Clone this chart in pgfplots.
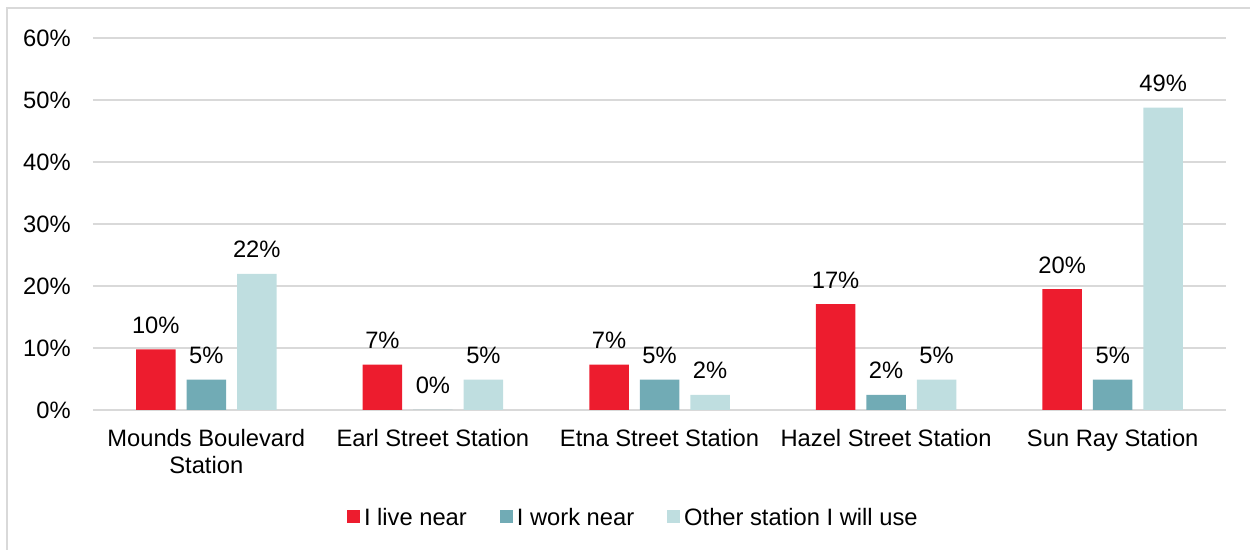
\documentclass[border=0pt]{standalone}
\usepackage{fontspec}
\setmainfont{Liberation Sans}
\usepackage{pgfplots}
\pgfplotsset{compat=1.18}

\definecolor{livered}{RGB}{237,28,46}
\definecolor{workteal}{RGB}{113,171,181}
\definecolor{otherlight}{RGB}{191,222,224}
\definecolor{gridgray}{RGB}{217,217,217}

\pgfplotsset{
  sqlegend/.style={legend image code/.code={
      \fill[##1, draw=none] (0cm,-0.10cm) rectangle (0.26cm,0.16cm);}},
}

\begin{document}
\begin{tikzpicture}[font=\fontsize{13.5}{15.4}\selectfont]
\useasboundingbox (-1.86,-2.8) rectangle (23.14,8.2);
% outer chart frame (left and top edges visible)
\draw[line width=1.1pt, gridgray] (-1.72,-2.9) -- (-1.72,8.04) -- (23.3,8.04);

\begin{axis}[
    at={(0,0)}, anchor=south west,
    width=22.66cm, height=7.44cm, scale only axis,
    ybar=0.22cm, bar width=0.79cm,
    xmin=-0.5, xmax=4.5,
    ymin=0, ymax=60,
    xtick={0,1,2,3,4},
    xticklabels={{Mounds Boulevard\\Station}, Earl Street Station, Etna Street Station, Hazel Street Station, Sun Ray Station},
    xticklabel style={align=center, anchor=north, inner sep=0pt, yshift=-0.38cm},
    ytick={0,10,...,60},
    yticklabel={\pgfmathprintnumber{\tick}\%},
    yticklabel style={anchor=east, inner sep=0pt, xshift=-0.44cm},
    /pgf/number format/assume math mode=true,
    major tick length=0pt,
    tick style={draw=none},
    axis line style={draw=none},
    ymajorgrids,
    grid style={gridgray, line width=1pt},
    nodes near coords={\pgfmathprintnumber[fixed,precision=0]{\pgfplotspointmeta}\%},
    every node near coord/.append style={anchor=base, yshift=0.32cm, inner sep=0pt, text=black},
    legend columns=-1,
    legend style={
        at={(0.476,-0.290)}, anchor=center,
        draw=none, fill=none,
        nodes={inner sep=0pt},
        /tikz/every odd column/.append style={column sep=0.08cm},
        /tikz/every even column/.append style={column sep=0.66cm},
    },
]

% --- I live near ---
\addplot[fill=livered, draw=none, sqlegend] coordinates {
    (0, 9.76) (1, 7.32) (2, 7.32) (3, 17.07) (4, 19.51)
};
\addlegendentry{I live near}

% --- I work near ---
\addplot[fill=workteal, draw=none, sqlegend] coordinates {
    (0, 4.88) (1, 0) (2, 4.88) (3, 2.44) (4, 4.88)
};
\addlegendentry{I work near}

% --- Other station I will use ---
\addplot[fill=otherlight, draw=none, sqlegend] coordinates {
    (0, 21.95) (1, 4.88) (2, 2.44) (3, 4.88) (4, 48.78)
};
\addlegendentry{Other station I will use}

\end{axis}
\end{tikzpicture}
\end{document}
